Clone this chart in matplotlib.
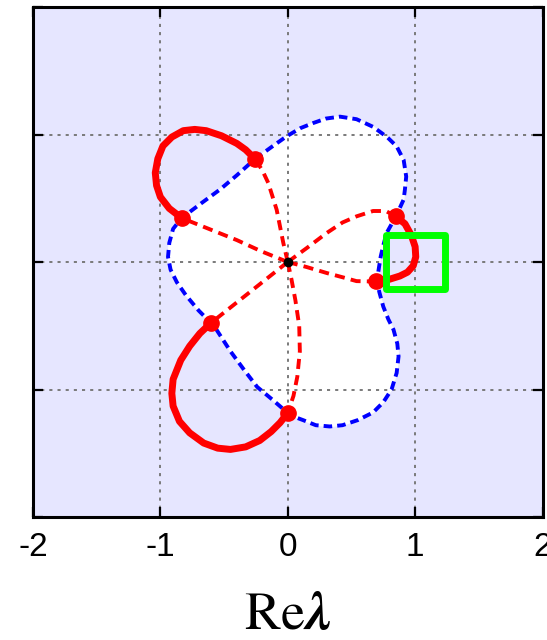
import matplotlib
matplotlib.use('Agg')
import matplotlib.pyplot as plt
from matplotlib.patches import Rectangle

plt.rcParams['font.family'] = ['Liberation Sans', 'DejaVu Sans']
plt.rcParams['mathtext.fontset'] = 'stix'
plt.rcParams['axes.unicode_minus'] = False

# points where the branches meet (red dots)
dots_x = [-0.257, -0.833, 0.847, 0.692, -0.603, 0.0]
dots_y = [0.808, 0.345, 0.358, -0.152, -0.478, -1.184]

# blue dashed closed contour
blue_x = [-0.257, -0.13, -0.01, 0.10, 0.20, 0.30, 0.41, 0.54, 0.67, 0.78, 0.855, 0.91, 0.93,
          0.92, 0.91, 0.855, 0.80, 0.776, 0.75, 0.73, 0.715, 0.70, 0.72, 0.75, 0.79, 0.83,
          0.86, 0.87, 0.855, 0.815, 0.75, 0.67, 0.55, 0.43, 0.33, 0.22, 0.12, 0.04, 0.0,
          -0.12, -0.24, -0.34, -0.45, -0.56, -0.603, -0.70, -0.80, -0.87, -0.92, -0.94,
          -0.93, -0.90, -0.833, -0.68, -0.53, -0.40, -0.257]
blue_y = [0.808, 0.90, 0.985, 1.05, 1.09, 1.125, 1.14, 1.12, 1.06, 0.98, 0.907, 0.80, 0.67,
          0.57, 0.49, 0.37, 0.27, 0.227, 0.13, 0.044, -0.05, -0.15, -0.24, -0.35, -0.45, -0.53,
          -0.64, -0.74, -0.87, -1.0, -1.10, -1.18, -1.24, -1.28, -1.29, -1.28, -1.24, -1.21, -1.184,
          -1.08, -0.98, -0.85, -0.70, -0.53, -0.478, -0.38, -0.26, -0.16, -0.06, 0.04,
          0.15, 0.26, 0.345, 0.46, 0.57, 0.68, 0.808]

# red dashed branches from the origin
dash_x = [
    [0, -0.035, -0.087, -0.153, -0.20, -0.257],
    [0, -0.21, -0.40, -0.62, -0.833],
    [0, 0.15, 0.305, 0.43, 0.54, 0.67, 0.77, 0.847],
    [0, 0.15, 0.305, 0.45, 0.54, 0.63, 0.692],
    [0, -0.30, -0.603],
    [0, 0.03, 0.06, 0.09, 0.095, 0.075, 0.045, 0.0],
]
dash_y = [
    [0, 0.15, 0.41, 0.62, 0.72, 0.808],
    [0, 0.085, 0.172, 0.26, 0.345],
    [0, 0.11, 0.227, 0.31, 0.358, 0.40, 0.40, 0.358],
    [0, -0.04, -0.086, -0.125, -0.15, -0.152, -0.152],
    [0, -0.238, -0.478],
    [0, -0.14, -0.30, -0.50, -0.70, -0.90, -1.05, -1.184],
]

# red solid loops outside the contour
loop_x = [
    [-0.257, -0.33, -0.40, -0.52, -0.64, -0.73, -0.82, -0.91, -0.98, -1.02, -1.04, -1.03, -1.0, -0.93, -0.833],
    [-0.603, -0.69, -0.77, -0.84, -0.90, -0.91, -0.90, -0.85, -0.77, -0.66, -0.55, -0.45, -0.33, -0.22, -0.13, -0.06, 0.0],
    [0.847, 0.92, 0.97, 1.0, 1.005, 0.985, 0.94, 0.88, 0.80, 0.692],
]
loop_y = [
    [0.808, 0.88, 0.93, 0.99, 1.03, 1.04, 1.03, 0.98, 0.91, 0.81, 0.70, 0.60, 0.51, 0.42, 0.345],
    [-0.478, -0.56, -0.66, -0.77, -0.92, -1.03, -1.13, -1.25, -1.34, -1.42, -1.46, -1.47, -1.45, -1.40, -1.33, -1.26, -1.184],
    [0.358, 0.30, 0.21, 0.12, 0.04, -0.03, -0.08, -0.11, -0.135, -0.152],
]

# green box
box_x, box_y, box_w, box_h = 0.773, -0.208, 0.465, 0.422

fig = plt.figure(figsize=(5.47, 6.40), dpi=100)
ax = fig.add_axes([33 / 547, 123 / 640, 509.5 / 547, 510 / 640])
ax.set_facecolor('#E6E6FF')
ax.set_axisbelow('line')

ax.fill(blue_x, blue_y, color='white', zorder=1)
ax.grid(True, color='#7a7a7a', linestyle=(0, (1.6, 2.6)), linewidth=1.4)

ax.plot(blue_x, blue_y, color='blue', linewidth=2.8, linestyle=(0, (2.2, 1.3)), zorder=3)
for xs, ys in zip(dash_x, dash_y):
    ax.plot(xs, ys, color='red', linewidth=2.8, linestyle=(0, (2.6, 1.6)), zorder=3)
for xs, ys in zip(loop_x, loop_y):
    ax.plot(xs, ys, color='red', linewidth=5.0, solid_capstyle='round', zorder=4)
ax.plot(dots_x, dots_y, 'o', color='red', markersize=11, zorder=5)
ax.plot([0], [0], 'o', color='black', markersize=6, zorder=5)

ax.add_patch(Rectangle((box_x, box_y), box_w, box_h, fill=False, edgecolor='#00FF00',
                       linewidth=5, joinstyle='round', zorder=6))

ax.set_xlim(-2, 2)
ax.set_ylim(-2, 2)
ax.set_xticks([-2, -1, 0, 1, 2])
ax.set_yticks([-2, -1, 0, 1, 2])
ax.set_yticklabels([])
ax.tick_params(direction='in', length=7, width=1.6, top=True, right=True, labelsize=24, pad=11)
for s in ax.spines.values():
    s.set_linewidth(2.2)

fig.text(287 / 547, 1 - 629 / 640, r'$\mathrm{Re}\mathbfit{\lambda}$', fontsize=39,
         ha='center', va='baseline')

fig.savefig('out.png', dpi=100)
